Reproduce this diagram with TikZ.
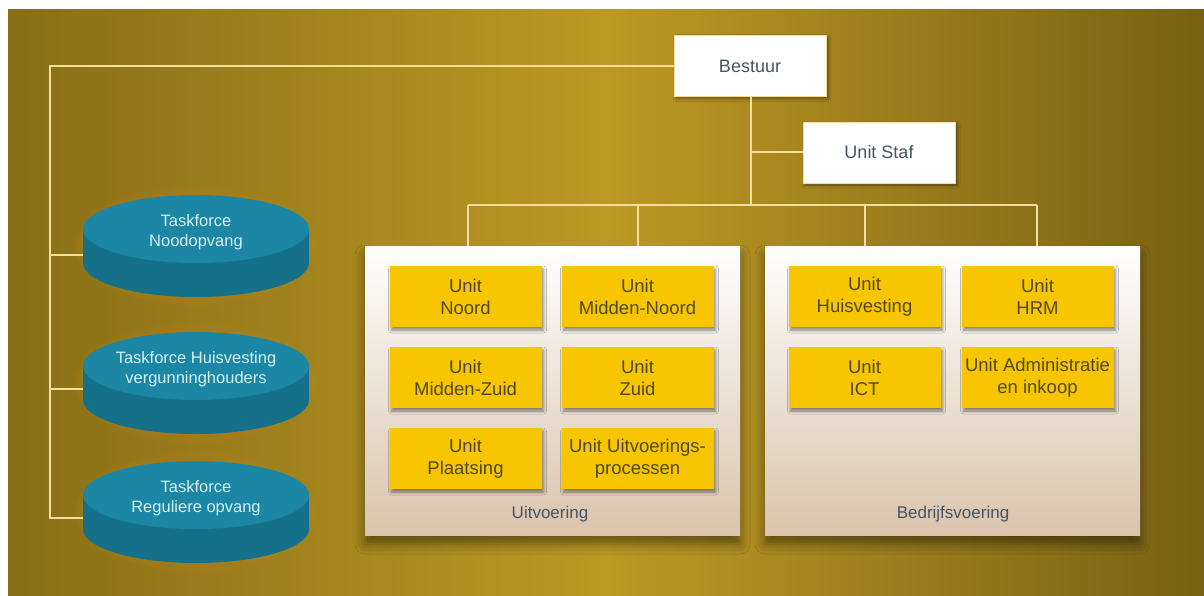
\documentclass[tikz,border=0pt]{standalone}
\usepackage{fontspec}
\setmainfont{Liberation Sans}
\usetikzlibrary{shadows.blur,calc}

\definecolor{goldL}{RGB}{136,110,22}
\definecolor{goldM}{RGB}{188,152,36}
\definecolor{goldR}{RGB}{120,97,20}
\definecolor{linkcol}{RGB}{243,222,160}
\definecolor{tealtop}{RGB}{27,135,164}
\definecolor{tealside}{RGB}{21,113,138}
\definecolor{tealtext}{RGB}{214,240,244}
\definecolor{glow}{RGB}{214,140,30}
\definecolor{unitfill}{RGB}{247,198,0}
\definecolor{unittext}{RGB}{80,72,28}
\definecolor{paneltop}{RGB}{255,255,255}
\definecolor{panelbot}{RGB}{218,196,172}
\definecolor{slate}{RGB}{70,84,100}

\tikzset{
  link/.style={draw=linkcol, line width=2pt},
  whitebox/.style={draw=linkcol, line width=0.8pt, fill=white, minimum width=152, minimum height=61,
    font=\fontsize{18}{22}\selectfont, text=slate,
    blur shadow={shadow xshift=2pt, shadow yshift=-2pt, shadow blur radius=3pt, shadow opacity=45}},
  panel/.style={top color=paneltop, bottom color=panelbot, minimum width=375, minimum height=289,
    blur shadow={shadow xshift=0pt, shadow yshift=-9pt, shadow blur radius=10pt, shadow opacity=45}},
  unitbox/.style={fill=unitfill, minimum width=152, minimum height=61, align=center,
    font=\fontsize{18.5}{22}\selectfont, text=unittext,
    blur shadow={shadow xshift=2pt, shadow yshift=-3pt, shadow blur radius=3pt, shadow opacity=45}},
  panellabel/.style={font=\fontsize{17}{20}\selectfont, text=slate},
  tflabel/.style={align=center, font=\fontsize{16.5}{20}\selectfont, text=tealtext},
}

% taskforce disc: #1 centre of the top face, #2 name, #3 text
\newcommand{\taskdisc}[3]{%
  \foreach \g in {0,2,...,10}
    \fill[glow, opacity=0.05] ($(#1)+(0,17)$) ellipse ({113+\g} and {51+\g});
  \fill[tealside] ($(#1)+(0,34)$) ellipse (113 and 34);
  \fill[tealside] ($(#1)+(-113,0)$) rectangle ($(#1)+(113,34)$);
  \fill[tealtop] (#1) ellipse (113 and 34);
  \node[tflabel] (#2) at ($(#1)+(0,3)$) {#3};
}

\begin{document}
\begin{tikzpicture}[x=1pt, y=-1pt]
  \useasboundingbox (0,0) rectangle (1204,596);
  \fill[white] (0,0) rectangle (1204,596);
  \shade[left color=goldL, right color=goldR, middle color=goldM] (8,10) rectangle (1204,596);

  % management
  \node[whitebox] (bestuur) at (750,66) {Bestuur};
  \node[whitebox] (staf) at (879,152.5) {Unit Staf};

  % the two clusters
  \node[panel] (uitv) at (552.5,390.5) {};
  \node[panel] (bedr) at (952.5,390.5) {};
  \node[panellabel] (uitvlbl) at (550,514) {Uitvoering};
  \node[panellabel] (bedrlbl) at (953,514) {Bedrijfsvoering};

  \node[unitbox] (noord)  at (465.5,296.5) {Unit\\Noord};
  \node[unitbox] (mnoord) at (637.5,296.5) {Unit\\Midden-Noord};
  \node[unitbox] (mzuid)  at (465.5,377.5) {Unit\\Midden-Zuid};
  \node[unitbox] (zuid)   at (637.5,377.5) {Unit\\Zuid};
  \node[unitbox] (plaats) at (465.5,458.5) {Unit\\Plaatsing};
  \node[unitbox] (proc)   at (637.5,458.5) {Unit Uitvoerings-\\processen};

  \node[unitbox] (huisv) at (864.5,296.5) {Unit\\Huisvesting};
  \node[unitbox] (hrm)   at (1037.5,296.5) {Unit\\HRM};
  \node[unitbox] (ict)   at (864.5,377.5) {Unit\\ICT};
  \node[unitbox] (admin) at (1037.5,377.5) {Unit Administratie\\en inkoop};

  % taskforces
  \taskdisc{196,229}{tfnood}{Taskforce\\Noodopvang}
  \taskdisc{196,366}{tfhuis}{Taskforce Huisvesting\\vergunninghouders}
  \taskdisc{196,495}{tfregu}{Taskforce\\Reguliere opvang}
  \coordinate (tfnoodw) at (83,255);
  \coordinate (tfhuisw) at (83,389);
  \coordinate (tfreguw) at (83,518);
  \coordinate (rail) at (50,66);

  % connectors
  \coordinate (bus) at (751,205);
  \coordinate (busL) at (468,205);
  \coordinate (busR) at (1037,205);
  \draw[link] (bestuur.south -| bus) -- (bus);
  \draw[link] (bestuur.south -| bus) |- (staf.west);
  \draw[link] (busL) -- (busR);
  \draw[link] (busL) -- (busL |- uitv.north);
  \draw[link] (bus -| mnoord) -- (mnoord |- uitv.north);
  \draw[link] (bus -| huisv) -- (huisv |- bedr.north);
  \draw[link] (busR) -- (busR |- bedr.north);

  \draw[link] (bestuur.west) -- (rail) -- (rail |- tfreguw) -- (tfreguw);
  \draw[link] (rail |- tfnoodw) -- (tfnoodw);
  \draw[link] (rail |- tfhuisw) -- (tfhuisw);
\end{tikzpicture}
\end{document}
